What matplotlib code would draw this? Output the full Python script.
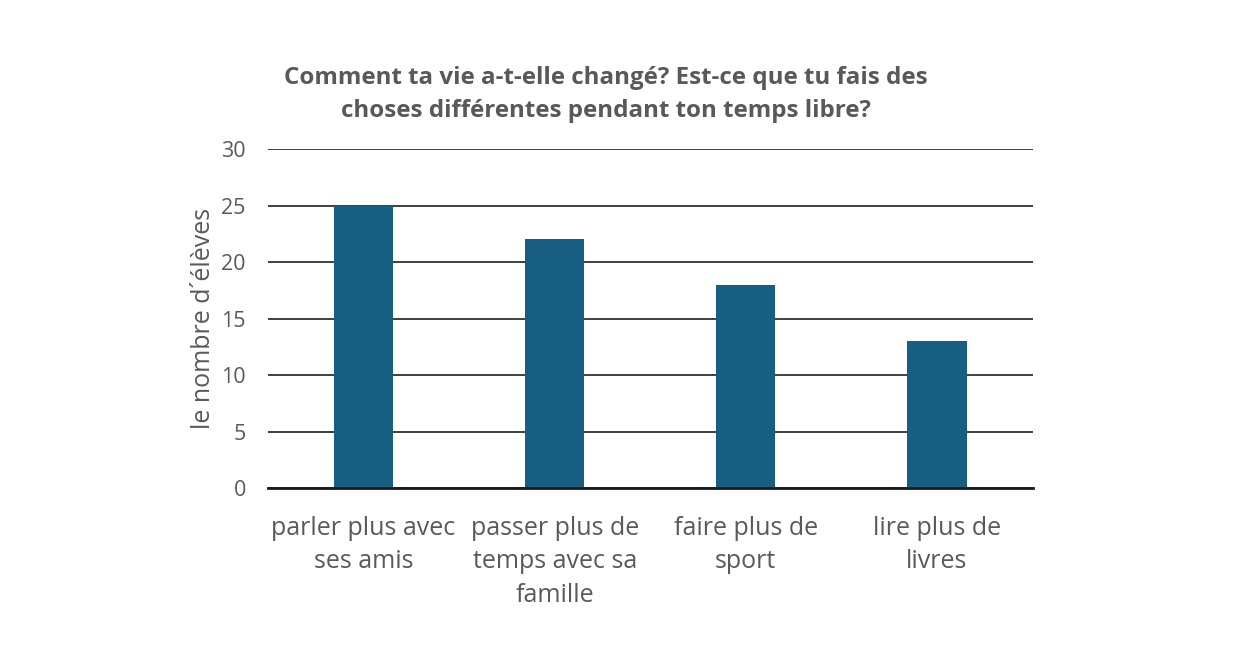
import matplotlib.pyplot as plt

plt.rcParams['font.family'] = ['Open Sans', 'DejaVu Sans']

categories = ['parler plus avec\nses amis', 'passer plus de\ntemps avec sa\nfamille',
              'faire plus de\nsport', 'lire plus de\nlivres']
values = [25, 22, 18, 13]
yticks = [0, 5, 10, 15, 20, 25, 30]

fig = plt.figure(figsize=(12.41, 6.47), dpi=100)
ax = fig.add_axes([0.216, 0.2457, 0.616, 0.524])

ax.bar(range(len(values)), values, width=0.31, color='#175f82', zorder=3)
ax.set_xlim(-0.5, len(values) - 0.5)
ax.set_ylim(0, 30)
ax.set_yticks(yticks)
ax.yaxis.grid(True, color='#303030', linewidth=1.3, zorder=0)
ax.set_xticks(range(len(values)))
ax.set_xticklabels(categories, fontsize=18, color='#595959', linespacing=1.45)
ax.tick_params(axis='y', labelsize=15.5, colors='#595959', length=0, pad=16)
ax.tick_params(axis='x', length=0, pad=20)
for s in ['top', 'right', 'left']:
    ax.spines[s].set_visible(False)
ax.spines['bottom'].set_color('#1a1a1a')
ax.spines['bottom'].set_linewidth(2)
ax.spines['bottom'].set_zorder(4)
ax.set_ylabel('le nombre d´élèves', fontsize=18, color='#595959', labelpad=4)

fig.text(0.488, 0.854, 'Comment ta vie a-t-elle changé? Est-ce que tu fais des\nchoses différentes pendant ton temps libre?',
         ha='center', va='center', fontsize=17.4, fontweight='bold', color='#595959', linespacing=1.5)

fig.savefig('out.png', dpi=100, facecolor='white')
